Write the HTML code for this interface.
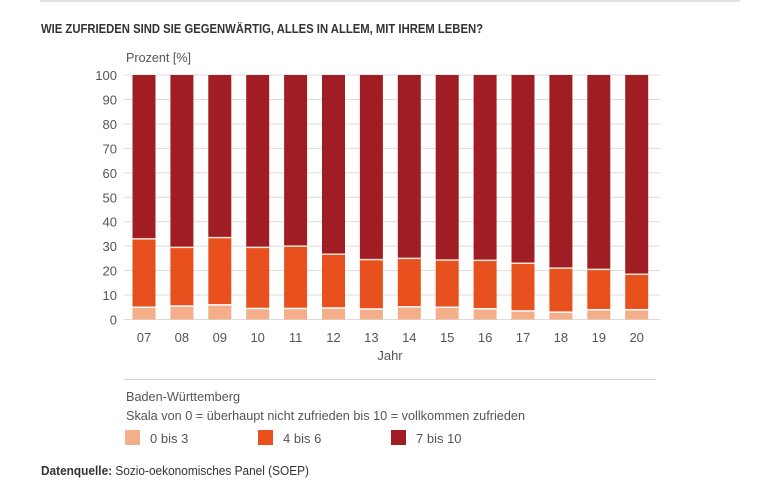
<!DOCTYPE html><html><head><meta charset="utf-8"><style>
body{margin:0;background:#fff;width:768px;height:480px;overflow:hidden;font-family:"Liberation Sans",sans-serif}
</style></head><body>
<svg width="768" height="480" xmlns="http://www.w3.org/2000/svg" font-family="Liberation Sans, sans-serif">
<rect x="40" y="0" width="700" height="2" fill="#e2e2e2"/>
<text x="41" y="33" font-size="13" font-weight="bold" fill="#333" textLength="442" lengthAdjust="spacingAndGlyphs">WIE ZUFRIEDEN SIND SIE GEGENWÄRTIG, ALLES IN ALLEM, MIT IHREM LEBEN?</text>
<text x="126" y="62" font-size="13" fill="#555" textLength="65" lengthAdjust="spacingAndGlyphs">Prozent [%]</text>
<g font-size="13" fill="#555" text-anchor="end" id="yt"></g>
<g id="grid"></g>
<g id="bars"></g>
<g font-size="13" fill="#555" text-anchor="middle" id="xt"></g>
<text x="390" y="360" font-size="13" fill="#555" text-anchor="middle">Jahr</text>
<rect x="124" y="379" width="532" height="1" fill="#cfcfcf"/>
<text x="126" y="401" font-size="13" fill="#555" textLength="114" lengthAdjust="spacingAndGlyphs">Baden-Württemberg</text>
<text x="126" y="420" font-size="13" fill="#555" textLength="399" lengthAdjust="spacingAndGlyphs">Skala von 0 = überhaupt nicht zufrieden bis 10 = vollkommen zufrieden</text>
<rect x="125" y="430" width="15" height="15" fill="#f4ae8a"/>
<text x="150" y="443" font-size="13" fill="#555">0 bis 3</text>
<rect x="258" y="430" width="15" height="15" fill="#e8511e"/>
<text x="283" y="443" font-size="13" fill="#555">4 bis 6</text>
<rect x="391" y="430" width="15" height="15" fill="#a01e23"/>
<text x="416" y="443" font-size="13" fill="#555">7 bis 10</text>
<text x="41" y="475" font-size="13" fill="#333" textLength="268" lengthAdjust="spacingAndGlyphs"><tspan font-weight="bold">Datenquelle:</tspan> Sozio-oekonomisches Panel (SOEP)</text>
</svg>
<script>
var ns="http://www.w3.org/2000/svg";
function el(p,t,a,txt){var e=document.createElementNS(ns,t);for(var k in a)e.setAttribute(k,a[k]);if(txt!=null)e.textContent=txt;document.getElementById(p).appendChild(e);}
function Y(v){return 319.5-2.445*v;}
for(var v=0;v<=100;v+=10){el("grid","rect",{x:124,y:Y(v)-0.5,width:536,height:1,fill:"#dcdcdc"});el("yt","text",{x:117,y:Y(v)+5},v);}
var d=[[5,33],[5.5,29.5],[6,33.5],[4.5,29.5],[4.5,30],[4.7,26.7],[4.3,24.5],[5.2,25],[5,24.3],[4.4,24.2],[3.5,23],[3,21],[4,20.5],[4,18.5]];
var yrs=["07","08","09","10","11","12","13","14","15","16","17","18","19","20"];
for(var i=0;i<14;i++){var c=144+37.9*i,x=c-11.5;
el("bars","rect",{x:x,y:Y(100),width:23,height:Y(d[i][1])-Y(100),fill:"#a01e23"});
el("bars","rect",{x:x,y:Y(d[i][1]),width:23,height:Y(d[i][0])-Y(d[i][1]),fill:"#e8511e"});
el("bars","rect",{x:x,y:Y(d[i][0]),width:23,height:Y(0)-Y(d[i][0]),fill:"#f4ae8a"});
el("bars","rect",{x:x,y:Y(d[i][1])-0.75,width:23,height:1.5,fill:"#fbe3d6"});
el("bars","rect",{x:x,y:Y(d[i][0])-0.75,width:23,height:1.5,fill:"#fff"});
el("xt","text",{x:c,y:342},yrs[i]);}
</script>
</body></html>
